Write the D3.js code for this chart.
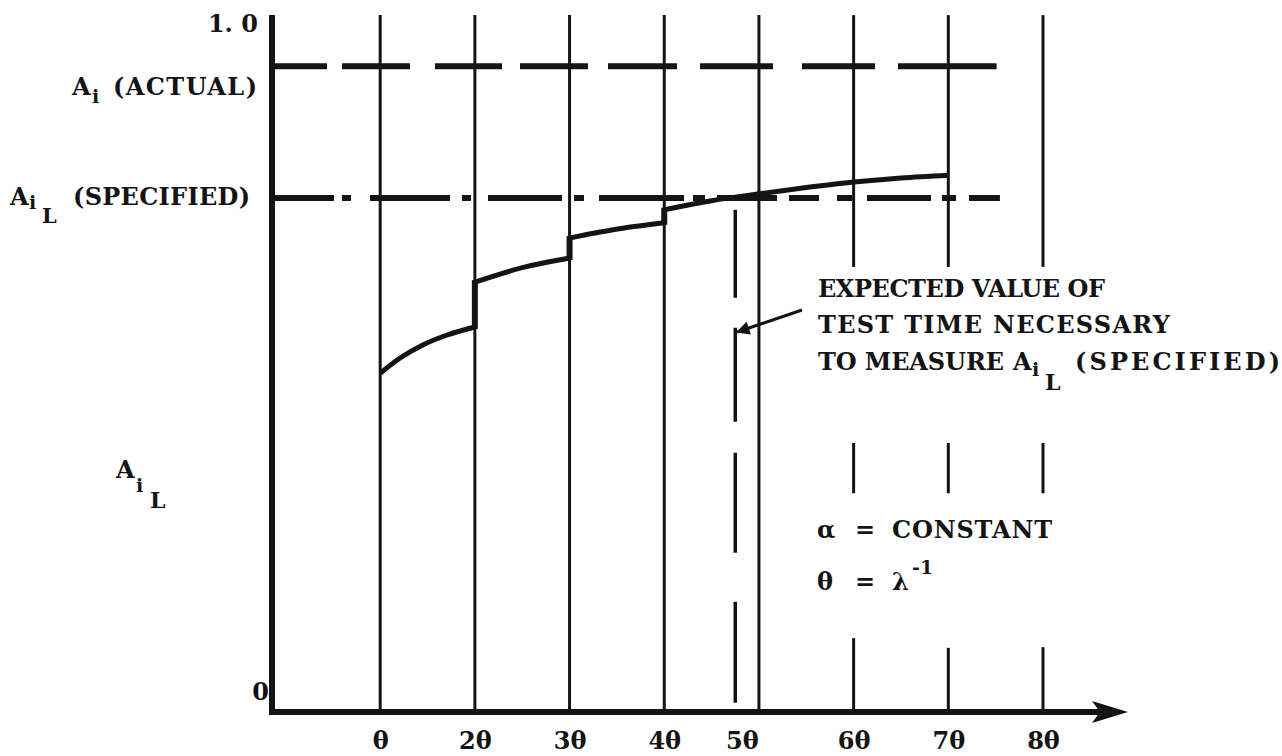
<!DOCTYPE html>
<html><head><meta charset="utf-8">
<script src="https://cdn.jsdelivr.net/npm/d3@7"></script>
<style>
body{margin:0;background:#fff;}
svg text{font-family:"DejaVu Serif",serif;font-weight:bold;fill:#141414;}
</style></head><body>
<svg id="chart" width="1282" height="756"></svg>
<script>
// ---------------- data ----------------
const tickMultiples = [1, 2, 3, 4, 5, 6, 7, 8];
const tickLabels = ["θ", "2θ", "3θ", "4θ", "5θ", "6θ", "7θ", "8θ"];
const brokenGridMultiples = [6, 7, 8];
// visible pieces (in A units) of the broken grid lines at 6θ, 7θ, 8θ
const brokenGridPieces = [
  [[0.645, 1.01], [0.317, 0.390], [0, 0.107]],
  [[0.645, 1.01], [0.317, 0.390], [0, 0.093]],
  [[0.645, 1.01], [0.317, 0.390], [0, 0.094]]
];
const actualAvail = 0.936;      // A_i (ACTUAL)
const specifiedAvail = 0.745;   // A_iL (SPECIFIED)
const refLineEnds = [7.51, 7.545];
const expectedTestTime = 4.75;  // θ units
const expectedLineTop = 0.728;
// lower-limit curve, one segment per test interval (t in θ, A_iL)
const seg1 = [[1, 0.491], [1.21, 0.513], [1.45, 0.532], [1.7, 0.546], [2, 0.558]];
const seg2 = [[2, 0.623], [2.5, 0.644], [3, 0.658]];
const seg3 = [[3, 0.687], [3.46, 0.699], [4, 0.709]];
const seg4 = [[4, 0.728], [4.5, 0.741], [5, 0.751], [5.5, 0.760], [6, 0.768], [6.5, 0.774], [7, 0.778]];
const segments = [seg1, seg2, seg3, seg4];

// ---------------- layout ----------------
const ink = "#141414";
const FS = 24;
const svg = d3.select("#chart");
const x = d3.scaleLinear().domain([0, 8]).range([285.5, 1043]);
const y = d3.scaleLinear().domain([0, 1]).range([712, 22]);
const axisStart = x.invert(272);
const axisEnd = x.invert(1100);
const yTop = 1.01;

// full grid lines
const fullGrid = tickMultiples.filter(m => !brokenGridMultiples.includes(m));
svg.selectAll("line.grid").data(fullGrid).join("line").attr("class", "grid")
  .attr("x1", d => x(d)).attr("x2", d => x(d))
  .attr("y1", y(0)).attr("y2", y(yTop))
  .attr("stroke", ink).attr("stroke-width", 3);
// broken grid lines
brokenGridMultiples.forEach((m, i) => {
  svg.selectAll(null).data(brokenGridPieces[i]).join("line")
    .attr("x1", x(m)).attr("x2", x(m))
    .attr("y1", d => y(d[0])).attr("y2", d => y(d[1]))
    .attr("stroke", ink).attr("stroke-width", 3);
});

// expected value dashed vertical
svg.append("line")
  .attr("x1", x(expectedTestTime)).attr("x2", x(expectedTestTime))
  .attr("y1", y(expectedLineTop)).attr("y2", y(0))
  .attr("stroke", ink).attr("stroke-width", 3.5)
  .attr("stroke-dasharray", "88,30,94,31,100,49,101");

// A_i (ACTUAL) dashed line
svg.append("line")
  .attr("x1", x(axisStart)).attr("x2", x(refLineEnds[0]))
  .attr("y1", y(actualAvail)).attr("y2", y(actualAvail))
  .attr("stroke", ink).attr("stroke-width", 6)
  .attr("stroke-dasharray", "55,15,68,25,67,18,68,20,69,23,73,29,73,23,99,300");

// A_iL (SPECIFIED) dash-dot line
svg.append("line")
  .attr("x1", x(axisStart)).attr("x2", x(refLineEnds[1]))
  .attr("y1", y(specifiedAvail)).attr("y2", y(specifiedAvail))
  .attr("stroke", ink).attr("stroke-width", 6)
  .attr("stroke-dasharray", "62,8,9,19,80,12,9,17,74,12,10,15,85,9,12,12,60,12,30,18,15,15,64,11,14,13,60,300");

// curve segments
const line = d3.line().x(d => x(d[0])).y(d => y(d[1])).curve(d3.curveMonotoneX);
svg.selectAll("path.seg").data(segments).join("path").attr("class", "seg")
  .attr("d", line).attr("fill", "none").attr("stroke", ink)
  .attr("stroke-width", 5).attr("stroke-linecap", "butt");
// vertical jumps between segments
const jumps = segments.slice(1).map((s, i) => [segments[i][segments[i].length - 1], s[0]]);
svg.selectAll("line.jump").data(jumps).join("line").attr("class", "jump")
  .attr("x1", d => x(d[0][0])).attr("x2", d => x(d[1][0]))
  .attr("y1", d => y(d[0][1]) + 2).attr("y2", d => y(d[1][1]) - 2)
  .attr("stroke", ink).attr("stroke-width", 6);

// axes
svg.append("line").attr("x1", x(axisStart)).attr("x2", x(axisStart))
  .attr("y1", y(0) + 3).attr("y2", y(yTop))
  .attr("stroke", ink).attr("stroke-width", 6);
svg.append("line").attr("x1", x(axisStart) - 3).attr("x2", x(axisEnd))
  .attr("y1", y(0)).attr("y2", y(0))
  .attr("stroke", ink).attr("stroke-width", 6);
const tipX = x(axisEnd) + 28;
svg.append("path")
  .attr("d", `M${x(axisEnd) - 8},${y(0) - 11} L${tipX},${y(0)} L${x(axisEnd) - 8},${y(0) + 11} L${x(axisEnd)},${y(0)} Z`)
  .attr("fill", ink);

// x tick labels via d3 axis
const xAxis = d3.axisBottom(x).tickValues(tickMultiples)
  .tickFormat((d, i) => tickLabels[i]).tickSize(0).tickPadding(20);
const gx = svg.append("g").attr("transform", `translate(0,${y(0)})`).call(xAxis);
gx.select(".domain").remove();
gx.selectAll("text").attr("font-family", "DejaVu Serif").attr("font-weight", "bold")
  .attr("font-size", FS).attr("fill", ink)
  .attr("dx", (d, i) => tickLabels[i] === "5θ" ? -17 : 0);

// ---------------- text ----------------
// parts: [text, x, y, fontSize?, textLength?]
function subText(parts, size) {
  const t = svg.append("text").attr("font-size", size);
  parts.forEach(p => {
    const s = t.append("tspan").attr("x", p[1]).attr("y", p[2])
      .attr("font-size", p[3] || size).text(p[0]);
    if (p[4]) s.attr("textLength", p[4]);
  });
  return t;
}
svg.append("text").attr("x", 258).attr("y", 32).attr("text-anchor", "end")
  .attr("font-size", FS).text("1. 0");
svg.append("text").attr("x", 269).attr("y", 700).attr("text-anchor", "end")
  .attr("font-size", FS).text("0");
subText([["A", 72, 95], ["i", 92, 103, 19], ["(ACTUAL)", 113, 95, null, 144]], FS);
subText([["A", 10, 205], ["i", 29, 209, 19], ["L", 42, 223, 21], ["(SPECIFIED)", 73, 205, null, 177]], FS);
subText([["A", 116, 478], ["i", 136, 492, 19], ["L", 150, 508, 22]], FS);

// annotation
subText([["EXPECTED VALUE OF", 818, 297, null, 287]], FS);
subText([["TEST TIME NECESSARY", 818, 333, null, 352]], FS);
subText([["TO MEASURE", 818, 370, null, 186], ["A", 1013, 370], ["i", 1032, 376, 19], ["L", 1045, 390, 22], ["(SPECIFIED)", 1075, 370, null, 205]], FS);

// arrow to expected value line
svg.append("defs").append("marker").attr("id", "ah")
  .attr("viewBox", "0 0 10 10").attr("refX", 9).attr("refY", 5)
  .attr("markerWidth", 5).attr("markerHeight", 4.5).attr("orient", "auto")
  .append("path").attr("d", "M0,0 L10,5 L0,10 Z").attr("fill", ink);
svg.append("line").attr("x1", 802).attr("y1", 310)
  .attr("x2", x(expectedTestTime) + 2).attr("y2", 332)
  .attr("stroke", ink).attr("stroke-width", 3).attr("marker-end", "url(#ah)");

// constants
subText([["α", 817, 538], ["=", 855, 538], ["CONSTANT", 892, 538, null, 160]], FS);
subText([["θ", 817, 590], ["=", 855, 590], ["λ", 892, 590], ["-1", 912, 574, 19]], FS);
</script>
</body></html>
